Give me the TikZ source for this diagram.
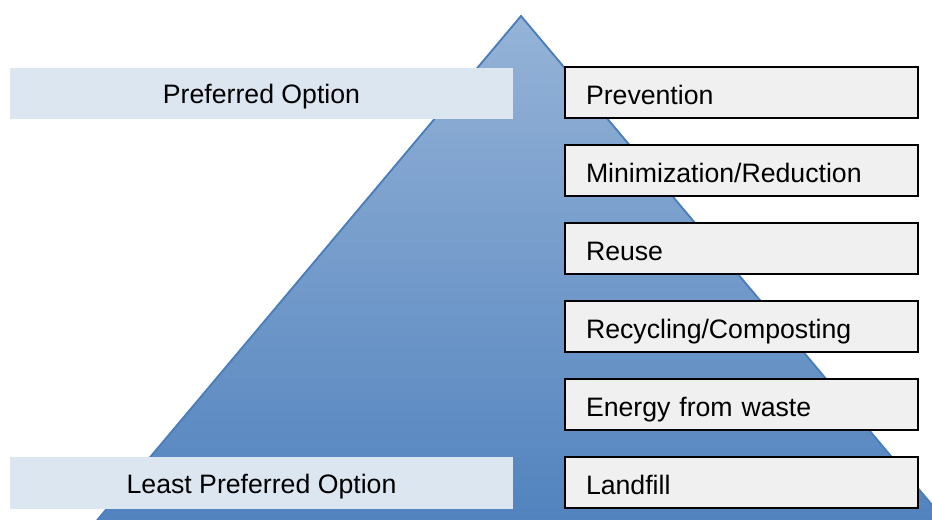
\documentclass[tikz,border=0pt]{standalone}
\usepackage{fontspec}
\setmainfont{Liberation Sans}
\begin{document}
\begin{tikzpicture}[x=0.75pt,y=-0.75pt,
  rbox/.style={draw=black,line width=1.1pt,fill=boxgray,minimum height=38.25pt,
    inner xsep=15.75pt,text width=233.25pt,align=left,text height=18pt,text depth=0pt,
    font=\fontsize{20}{24}\selectfont},
  lbox/.style={fill=lightblue,minimum height=38.5pt,minimum width=377.25pt,
    inner sep=0pt,text height=15.5pt,text depth=0pt,font=\fontsize{20}{24}\selectfont}]
\definecolor{boxgray}{HTML}{F0F0F0}
\definecolor{lightblue}{HTML}{DCE6F1}
\definecolor{topblue}{HTML}{95B3D7}
\definecolor{botblue}{HTML}{4F81BD}
\definecolor{edgeblue}{HTML}{4A7EBB}
\useasboundingbox (0,0) rectangle (932,520);
\begin{scope}
\clip (0,0) rectangle (932,520);
\coordinate (apex) at (521,16);
\coordinate (bl) at (78,543);
\coordinate (br) at (964,543);
\shade[top color=topblue,bottom color=botblue] (apex) -- (br) -- (bl) -- cycle;
\draw[edgeblue,line width=1.4pt,line join=miter] (bl) -- (apex) -- (br);
\end{scope}
\node[lbox] (pref) at (261.5,93.5) {Preferred Option};
\node[lbox] (least) at (261.5,483) {Least Preferred Option};
\node[rbox] (prev) at (741.5,92.5) {Prevention};
\node[rbox] (mini) at (741.5,170.5) {Minimization/Reduction};
\node[rbox] (reuse) at (741.5,248.5) {Reuse};
\node[rbox] (recy) at (741.5,326.5) {Recycling/Composting};
\node[rbox] (energy) at (741.5,404.5) {Energy from waste};
\node[rbox] (land) at (741.5,482.5) {Landfill};
\end{tikzpicture}
\end{document}
